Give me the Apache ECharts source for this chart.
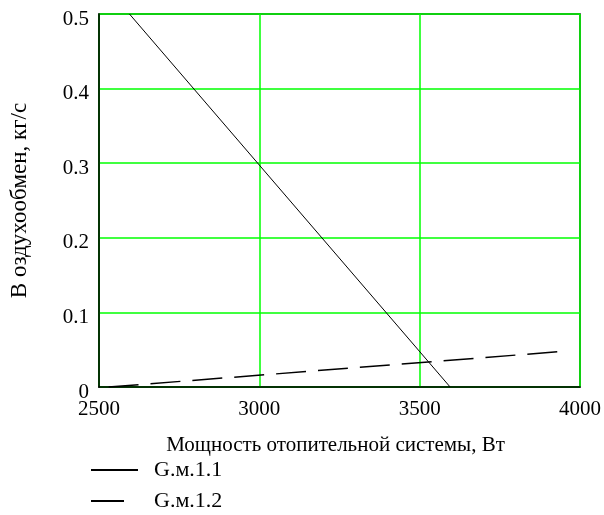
<!DOCTYPE html>
<html>
<head>
<meta charset="utf-8">
<script src="https://cdn.jsdelivr.net/npm/echarts@6/dist/echarts.min.js"></script>
<style>
  html, body { margin: 0; padding: 0; background: #fff; }
  #chart { width: 604px; height: 515px; }
</style>
</head>
<body>
<div id="chart"></div>
<script>
const seriesNames = ['G.м.1.1', 'G.м.1.2']
// endpoints: [power, air exchange]
const line1 = [[2595, 0.5], [3595, 0]]
const line2 = [[2530, 0], [3955, 0.048]]
const xTicks = [2500, 3000, 3500, 4000]
const yTicks = [0, 0.1, 0.2, 0.3, 0.4, 0.5]

const textColor = '#000'
const font = '"Liberation Serif", "Times New Roman", serif'
const gridGreen = '#00ff00'

const myChart = echarts.init(document.getElementById('chart'))

const option = {
    animation: false,
    textStyle: { fontFamily: font, color: textColor },
    grid: {
        left: 92,
        right: 20,
        top: 14,
        bottom: 128,
        show: true,
        borderColor: '#000',
        borderWidth: 1.5
    },
    legend: {
        orient: 'vertical',
        left: 90,
        top: 456,
        padding: 0,
        height: 120,
        itemWidth: 47,
        itemHeight: 14,
        itemGap: 3,
        itemStyle: { opacity: 0 },
        textStyle: {
            fontFamily: font,
            fontSize: 22,
            lineHeight: 22,
            color: textColor,
            padding: [6, 0, 0, 11]
        },
        data: [
            { name: seriesNames[0] },
            { name: seriesNames[1], lineStyle: { type: [33, 20] } }
        ]
    },
    xAxis: {
        type: 'value',
        min: xTicks[0],
        max: xTicks[xTicks.length - 1],
        interval: 500,
        name: 'Мощность отопительной системы, Вт',
        nameLocation: 'middle',
        nameGap: 48,
        nameTextStyle: { fontFamily: font, fontSize: 21, color: textColor, padding: [0, 8, 0, 0] },
        axisLine: { show: true, lineStyle: { color: '#000', width: 1.5 } },
        axisTick: { show: false },
        axisLabel: {
            fontFamily: font,
            fontSize: 21,
            color: textColor,
            margin: 12,
            formatter: v => String(v)
        },
        splitLine: { show: true, lineStyle: { color: gridGreen, width: 1.5 } }
    },
    yAxis: {
        type: 'value',
        min: yTicks[0],
        max: yTicks[yTicks.length - 1],
        interval: 0.1,
        name: 'В оздухообмен, кг/с',
        nameLocation: 'middle',
        nameGap: 68,
        nameTextStyle: { fontFamily: font, fontSize: 23, color: textColor },
        axisLine: { show: true, lineStyle: { color: '#000', width: 1.5 } },
        axisTick: { show: false },
        axisLabel: {
            fontFamily: font,
            fontSize: 21,
            color: textColor,
            margin: 10,
            verticalAlign: 'top',
            lineHeight: 10
        },
        splitLine: { show: true, lineStyle: { color: gridGreen, width: 1.5 } }
    },
    series: [
        {
            name: seriesNames[0],
            type: 'line',
            symbol: 'none',
            z: 3,
            lineStyle: { color: '#000', width: 1 },
            itemStyle: { color: '#000' },
            data: line1
        },
        {
            name: seriesNames[1],
            type: 'line',
            symbol: 'none',
            z: 3,
            lineStyle: { color: '#000', width: 1.5, type: [30, 12] },
            itemStyle: { color: '#000' },
            data: line2
        }
    ]
}

myChart.setOption(option)
</script>
</body>
</html>
